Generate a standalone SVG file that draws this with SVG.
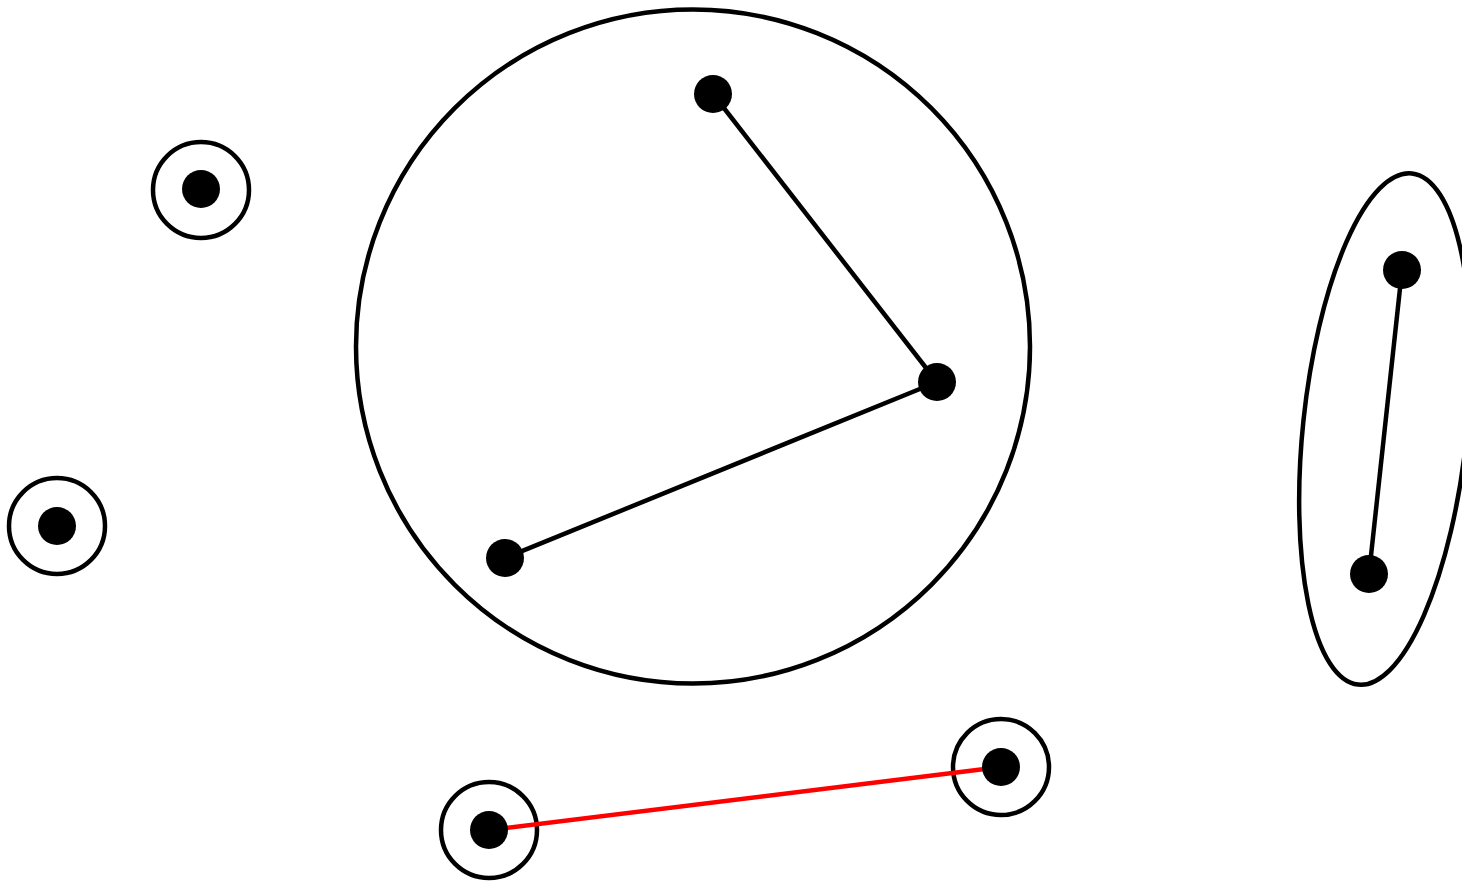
<svg xmlns="http://www.w3.org/2000/svg" width="1462" height="882" viewBox="0 0 1462 882">
<style>
.ring{fill:none;stroke:#000;stroke-width:4.5}
.dot{fill:#000}
.edge{stroke:#000;stroke-width:4.5;fill:none}
.red{stroke:#ff0000;stroke-width:4.5;fill:none}
</style>
<rect width="1462" height="882" fill="#fff"/>
<g id="clusters">
<circle id="big" class="ring" cx="693" cy="346.5" r="337"/>
<ellipse id="oval" class="ring" cx="1385" cy="429" rx="82" ry="257" transform="rotate(6 1385 429)"/>
<circle id="ring-a" class="ring" cx="201" cy="190" r="48"/>
<circle id="ring-b" class="ring" cx="57" cy="526" r="48"/>
<circle id="ring-c" class="ring" cx="489" cy="830" r="48"/>
<circle id="ring-d" class="ring" cx="1001" cy="767" r="48"/>
</g>
<g id="connectors">
<line class="edge" x1="713" y1="94" x2="937" y2="382"/>
<line class="edge" x1="937" y1="382" x2="505" y2="558"/>
<line class="edge" x1="1402" y1="270" x2="1369" y2="574"/>
<line class="red" x1="489" y1="830" x2="1001" y2="767"/>
</g>
<g id="n1"><circle class="dot" cx="713" cy="94" r="19"/></g>
<g id="n2"><circle class="dot" cx="937" cy="382" r="19"/></g>
<g id="n3"><circle class="dot" cx="505" cy="558" r="19"/></g>
<g id="n4"><circle class="dot" cx="1402" cy="270" r="19"/></g>
<g id="n5"><circle class="dot" cx="1369" cy="574" r="19"/></g>
<g id="n6"><circle class="dot" cx="201" cy="189" r="19"/></g>
<g id="n7"><circle class="dot" cx="57" cy="526" r="19"/></g>
<g id="n8"><circle class="dot" cx="489" cy="830" r="19"/></g>
<g id="n9"><circle class="dot" cx="1001" cy="767" r="19"/></g>
</svg>
